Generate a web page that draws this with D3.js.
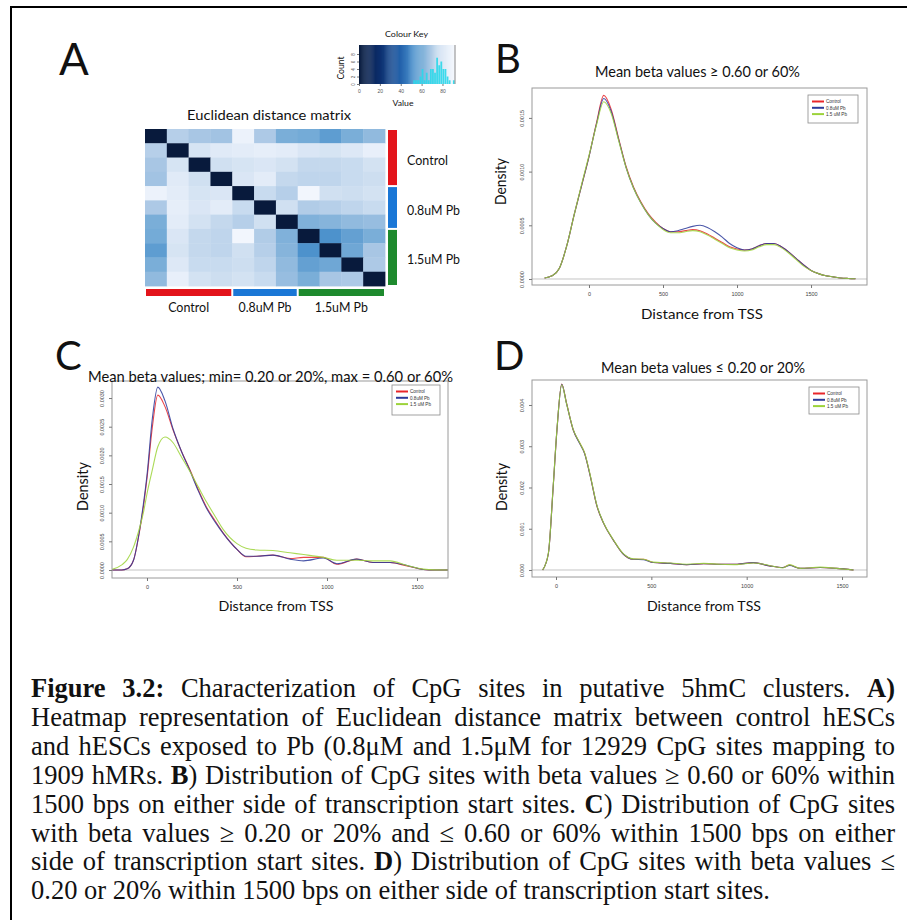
<!DOCTYPE html>
<html>
<head>
<meta charset="utf-8">
<script src="https://cdn.jsdelivr.net/npm/d3@7"></script>
<style>
  body { margin: 0; background: #fff; }
  svg { display: block; }
</style>
</head>
<body>
<div id="fig"></div>
<script>
// ---- panel A: sample groups and euclidean distance matrix ----
const sampleGroups = ["Control", "Control", "Control", "Control",
  "0.8uM Pb", "0.8uM Pb", "0.8uM Pb",
  "1.5uM Pb", "1.5uM Pb", "1.5uM Pb", "1.5uM Pb"];
const groupNames = ["Control", "0.8uM Pb", "1.5uM Pb"];
const distMatrix = [
  [0, 71, 68, 67, 87, 69, 60, 59, 55, 60, 64],
  [71, 0, 79, 82, 83, 84, 83, 80, 79, 81, 85],
  [68, 79, 0, 77, 79, 80, 78, 74, 74, 75, 78],
  [67, 82, 77, 0, 80, 83, 74, 73, 73, 75, 76],
  [87, 83, 79, 80, 0, 75, 71, 90, 77, 76, 78],
  [69, 84, 80, 83, 75, 0, 77, 70, 71, 73, 75],
  [60, 83, 78, 74, 71, 77, 0, 61, 62, 64, 65],
  [59, 80, 74, 73, 90, 70, 61, 0, 52, 56, 60],
  [55, 79, 74, 73, 77, 71, 62, 52, 0, 58, 68],
  [60, 81, 75, 75, 76, 73, 64, 56, 58, 0, 69],
  [64, 85, 78, 76, 78, 75, 65, 60, 68, 69, 0]
];
const keyTicks = [0, 20, 40, 60, 80];
const countTicks = [0, 2, 4, 6, 8];

// ---- density curves (distance from TSS, density) ----
const seriesNames = ["Control", "0.8uM Pb", "1.5 uM Pb"];

const bDist = [-300, -250, -200, -150, -100, -50, 0, 50, 100, 150, 200, 250, 300, 350, 400, 450, 500, 550, 600, 650, 700,
  750, 800, 850, 900, 950, 1000, 1050, 1100, 1150, 1200, 1250, 1300, 1350, 1400, 1450, 1500, 1550, 1600, 1650, 1700, 1750, 1800];
const bControl = [0.00001, 0.00003, 0.0001, 0.00031, 0.0006, 0.00087, 0.00114, 0.00145, 0.00171, 0.00158, 0.00131, 0.00105,
  0.00086, 0.00072, 0.00061, 0.00053, 0.00047, 0.00044, 0.00044, 0.00045, 0.00046, 0.00045, 0.00042, 0.00038, 0.00034,
  0.0003, 0.00028, 0.00027, 0.00028, 0.00031, 0.00033, 0.00033, 0.0003, 0.00025, 0.00019, 0.00013, 0.00008, 0.00005,
  0.00003, 0.00002, 0.00001, 0.000005, 0.000002];
const bLow = [0.00001, 0.00003, 0.0001, 0.00031, 0.0006, 0.00087, 0.00114, 0.00144, 0.00168, 0.00156, 0.0013, 0.00104,
  0.00085, 0.00071, 0.0006, 0.00052, 0.00047, 0.00044, 0.00045, 0.00047, 0.00049, 0.0005, 0.00048, 0.00044, 0.00039,
  0.00033, 0.00029, 0.00027, 0.00028, 0.00031, 0.00033, 0.00033, 0.0003, 0.00025, 0.00019, 0.00013, 0.00008, 0.00005,
  0.00003, 0.00002, 0.00001, 0.000005, 0.000002];
const bHigh = [0.00001, 0.00003, 0.0001, 0.00031, 0.0006, 0.00088, 0.00115, 0.00143, 0.00165, 0.00154, 0.00129, 0.00104,
  0.00085, 0.00071, 0.0006, 0.00052, 0.00046, 0.00043, 0.00043, 0.00044, 0.00045, 0.00044, 0.00041, 0.00037, 0.00033,
  0.00029, 0.00027, 0.00026, 0.00027, 0.0003, 0.00032, 0.00032, 0.00029, 0.00024, 0.00018, 0.00012, 0.00008, 0.00005,
  0.00003, 0.00002, 0.00001, 0.000005, 0.000002];

const cDist = [-200, -140, -110, -75, -40, -20, 0, 30, 60, 100, 145, 190, 240, 285, 330, 380, 425, 500, 550, 610, 700,
  795, 870, 980, 1055, 1165, 1255, 1350, 1445, 1535, 1600, 1700];
const cControl = [0, 0, 0.00002, 0.00017, 0.0007, 0.0011, 0.0016, 0.0025, 0.00305, 0.00285, 0.00244, 0.00208, 0.00174,
  0.0014, 0.0011, 0.00085, 0.00064, 0.00036, 0.00023, 0.00024, 0.00026, 0.0002, 0.00022, 0.00022, 0.0001, 0.00019,
  0.00013, 0.00013, 0.00007, 0.00001, 0, 0];
const cLow = [0, 0, 0.00002, 0.00017, 0.00072, 0.00115, 0.00165, 0.00265, 0.00319, 0.00295, 0.00246, 0.00208, 0.00172,
  0.00138, 0.00108, 0.00083, 0.00063, 0.00036, 0.00024, 0.00024, 0.00026, 0.00019, 0.00016, 0.00021, 0.00011, 0.00019,
  0.00013, 0.00013, 0.00008, 0.00001, 0, 0];
const cHigh = [0.000005, 0.00009, 0.00018, 0.0004, 0.00075, 0.001, 0.00133, 0.00175, 0.00215, 0.00232, 0.00222, 0.00198,
  0.00171, 0.00145, 0.00119, 0.00093, 0.0007, 0.00046, 0.00038, 0.00035, 0.00034, 0.0003, 0.00027, 0.00022, 0.00017,
  0.00017, 0.00016, 0.00016, 0.00008, 0.000015, 0.000002, 0];

const dDist = [-70, -40, -15, 5, 30, 55, 90, 125, 150, 180, 215, 250, 300, 350, 405, 460, 510, 600, 685, 775, 860, 950,
  1035, 1120, 1190, 1225, 1280, 1385, 1470, 1560];
const dControl = [0, 0.0004, 0.002, 0.0034, 0.00451, 0.00405, 0.0034, 0.00307, 0.00283, 0.00227, 0.00154, 0.00113,
  0.00073, 0.0004, 0.00026, 0.00026, 0.00018, 0.00016, 0.00013, 0.00015, 0.00014, 0.00014, 0.00018, 0.0001, 0.00006,
  0.00012, 0.00004, 0.00006, 0.00004, 0];
const dLow = [0, 0.0004, 0.002, 0.0034, 0.0045, 0.00404, 0.0034, 0.00306, 0.00282, 0.00227, 0.00155, 0.00113,
  0.00073, 0.0004, 0.00026, 0.00025, 0.00018, 0.00016, 0.00013, 0.00015, 0.00014, 0.00014, 0.00018, 0.0001, 0.00006,
  0.00011, 0.00004, 0.00006, 0.00004, 0];
const dHigh = [0, 0.00041, 0.00202, 0.00342, 0.00449, 0.00404, 0.00341, 0.00308, 0.00284, 0.00229, 0.00156, 0.00114,
  0.00074, 0.00041, 0.00027, 0.00026, 0.00019, 0.00017, 0.00014, 0.00016, 0.00014, 0.00013, 0.00017, 0.00011, 0.00005,
  0.00013, 0.00004, 0.00007, 0.00004, 0];

const xTicks = [0, 500, 1000, 1500];

// ---- caption, ** marks bold ----
const captionLines = [
  "**Figure 3.2:**  Characterization of CpG sites in putative 5hmC clusters. **A)**",
  "Heatmap representation of Euclidean distance matrix between control hESCs",
  "and hESCs exposed to Pb (0.8μM and 1.5μM for 12929 CpG sites mapping to",
  "1909 hMRs. **B**) Distribution of CpG sites with beta values ≥ 0.60 or 60% within",
  "1500 bps on either side of transcription start sites. **C**) Distribution of CpG sites",
  "with beta values ≥ 0.20 or 20% and ≤ 0.60 or 60% within 1500 bps on either",
  "side of transcription start sites. **D**)  Distribution of CpG sites with beta values ≤",
  "0.20 or 20% within 1500 bps on either side of transcription start sites."
];

const SANS = "Lato, 'Open Sans', sans-serif";
const SMALL = "'Liberation Sans', Arial, sans-serif";
const seriesColour = ["#e8262a", "#2c3a9a", "#9cd33a"];

const svg = d3.select("#fig").append("svg")
  .attr("width", 907)
  .attr("height", 920)
  .style("background-color", "white");

function label(parent, txt, o) {
  const t = parent.append("text")
    .text(txt)
    .attr("font-family", o.family || SANS)
    .attr("font-size", o.size)
    .attr("fill", o.fill || "#111")
    .attr("text-anchor", o.anchor || "middle");
  if (o.rotate) t.attr("transform", "translate(" + o.x + "," + o.y + ") rotate(" + o.rotate + ")");
  else t.attr("x", o.x).attr("y", o.y);
  if (o.width) t.attr("textLength", o.width).attr("lengthAdjust", "spacingAndGlyphs");
  return t;
}

// frame (only left and top edge lie inside the picture)
svg.append("path")
  .attr("d", "M11,920V7H907")
  .attr("fill", "none")
  .attr("stroke", "#000")
  .attr("stroke-width", 2);

// panel letters
label(svg, "A", {x: 59, y: 75, size: 44, anchor: "start"});
label(svg, "B", {x: 495, y: 73, size: 40, anchor: "start"});
label(svg, "C", {x: 55, y: 370, size: 40, anchor: "start"});
label(svg, "D", {x: 494, y: 370, size: 40, anchor: "start"});

// ================= panel A =================
const keyStops = [0, 20, 40, 52, 60, 68, 76, 84, 92];
const keyColours = ["#081a3c", "#0c2f6e", "#2463ad", "#4d92cc", "#7aaed8", "#a8c6e4", "#cddef0", "#e6eef9", "#f6f9fe"];
const heatColour = d3.scaleLinear().domain(keyStops).range(keyColours).clamp(true);
const groupColour = d3.scaleOrdinal().domain(groupNames).range(["#e3141b", "#1a77d6", "#1e8a2e"]);

const n = sampleGroups.length;
const hx = d3.scaleBand().domain(d3.range(n)).range([145, 385]);
const hy = d3.scaleBand().domain(d3.range(n)).range([129, 286]);

const heat = svg.append("g").attr("class", "heatmap");
heat.selectAll("g")
  .data(distMatrix)
  .join("g")
  .selectAll("rect")
  .data(function(row, i) { return row.map(function(v, j) { return {i: i, j: j, v: v}; }); })
  .join("rect")
  .attr("x", function(d) { return hx(d.j); })
  .attr("y", function(d) { return hy(d.i); })
  .attr("width", hx.bandwidth() + 0.4)
  .attr("height", hy.bandwidth() + 0.4)
  .attr("fill", function(d) { return heatColour(d.v); });

label(svg, "Euclidean distance matrix", {x: 269, y: 120, size: 13.5, width: 164});

groupNames.forEach(function(gn) {
  const idx = d3.range(n).filter(function(i) { return sampleGroups[i] === gn; });
  const a = d3.min(idx), b = d3.max(idx);
  const r0 = hy(a) + 1, r1 = hy(b) + hy.bandwidth() - 1;
  const c0 = hx(a) + 1, c1 = hx(b) + hx.bandwidth() - 1;
  svg.append("rect").attr("x", 388).attr("y", r0).attr("width", 9).attr("height", r1 - r0)
    .attr("fill", groupColour(gn));
  svg.append("rect").attr("x", c0).attr("y", 289).attr("width", c1 - c0).attr("height", 7)
    .attr("fill", groupColour(gn));
  const w = gn === "Control" ? 41 : 53;
  label(svg, gn, {x: 407, y: (r0 + r1) / 2 + 7, size: 14, anchor: "start", width: w});
  label(svg, gn, {x: (c0 + c1) / 2, y: 312, size: 14, width: w});
});

// colour key with histogram
const keyX = d3.scaleLinear().domain([0, 92]).range([359, 455]);
const keyY = d3.scaleLinear().domain([0, 10.4]).range([84, 45]);
const key = svg.append("g").attr("class", "key");
key.selectAll("rect.grad")
  .data(d3.range(0, 92, 1))
  .join("rect")
  .attr("class", "grad")
  .attr("x", function(d) { return keyX(d); })
  .attr("y", 45)
  .attr("width", keyX(1) - keyX(0) + 0.3)
  .attr("height", 39)
  .attr("fill", function(d) { return heatColour(d + 0.5); });

const upper = distMatrix.flatMap(function(row, i) { return row.filter(function(v, j) { return j > i; }); });
const bins = d3.bin().domain([0, 92]).thresholds(d3.range(0, 93, 2))(upper);
key.selectAll("rect.hist")
  .data(bins.filter(function(b) { return b.length > 0; }))
  .join("rect")
  .attr("class", "hist")
  .attr("x", function(b) { return keyX(b.x0); })
  .attr("width", function(b) { return keyX(b.x1) - keyX(b.x0) - 0.3; })
  .attr("y", function(b) { return keyY(b.length); })
  .attr("height", function(b) { return keyY(0) - keyY(b.length); })
  .attr("fill", "#2ad8ea")
  .attr("opacity", 0.9);
key.append("line").attr("x1", 455).attr("x2", 455).attr("y1", 45).attr("y2", 84)
  .attr("stroke", "#8a8a8a").attr("stroke-width", 1);

key.append("g")
  .attr("transform", "translate(0,84)")
  .call(d3.axisBottom(keyX).tickValues(keyTicks).tickSize(2).tickPadding(3))
  .call(function(a) { a.select(".domain").remove(); })
  .attr("font-size", 5)
  .attr("font-family", SMALL)
  .call(function(a) { a.selectAll("line").attr("stroke", "#777"); })
  .call(function(a) { a.selectAll("text").attr("fill", "#555"); });

const countAxis = key.append("g")
  .attr("transform", "translate(359,0)")
  .call(d3.axisLeft(keyY).tickValues(countTicks).tickSize(2))
  .call(function(a) { a.select(".domain").remove(); })
  .attr("font-size", 4.5)
  .attr("font-family", SMALL)
  .call(function(a) { a.selectAll("line").attr("stroke", "#777"); });
countAxis.selectAll("text")
  .attr("transform", "rotate(-90)")
  .attr("x", 0).attr("y", -4).attr("dy", 0)
  .attr("text-anchor", "middle")
  .attr("fill", "#555");

label(svg, "Colour Key", {x: 406.5, y: 37, size: 8, width: 43});
label(svg, "Count", {x: 344, y: 68, size: 8.5, rotate: -90, width: 23});
label(svg, "Value", {x: 403, y: 106, size: 8, width: 21});

// ================= density panels =================
const panels = [
  {id: "B", left: 532, right: 867, top: 88, bottom: 285,
    xDomain: [-385, 1878], yDomain: [-0.0000559, 0.0017784],
    yTicks: [0, 0.0005, 0.001, 0.0015], yFmt: ".4f",
    xs: bDist, series: [bControl, bLow, bHigh],
    legend: {x: 808, y: 95, w: 50, h: 28},
    title: "Mean beta values ≥ 0.60 or 60%", titleX: 697.5, titleY: 77, titleW: 205,
    xlabX: 702, xlabY: 319, xlabW: 122, ylabX: 506, ylabY: 181.5, ylabW: 47},
  {id: "C", left: 112, right: 448, top: 381, bottom: 578,
    xDomain: [-194.4, 1672.2], yDomain: [-0.0001395, 0.003297],
    yTicks: [0, 0.0005, 0.001, 0.0015, 0.002, 0.0025, 0.003], yFmt: ".4f",
    xs: cDist, series: [cControl, cLow, cHigh],
    legend: {x: 392, y: 385, w: 48, h: 30},
    title: "Mean beta values; min= 0.20 or 20%, max = 0.60 or 60%", titleX: 270.5, titleY: 381.5, titleW: 365,
    xlabX: 276, xlabY: 611, xlabW: 115, ylabX: 88, ylabY: 486.5, ylabW: 49},
  {id: "D", left: 532, right: 867, top: 380, bottom: 577,
    xDomain: [-125.9, 1631], yDomain: [-0.0001697, 0.004606],
    yTicks: [0, 0.001, 0.002, 0.003, 0.004], yFmt: ".3f",
    xs: dDist, series: [dControl, dLow, dHigh],
    legend: {x: 809, y: 387, w: 50, h: 27},
    title: "Mean beta values ≤ 0.20 or 20%", titleX: 703, titleY: 373, titleW: 204,
    xlabX: 704, xlabY: 611, xlabW: 114, ylabX: 507, ylabY: 487, ylabW: 48}
];

panels.forEach(function(p) {
  const x = d3.scaleLinear().domain(p.xDomain).range([p.left, p.right]);
  const y = d3.scaleLinear().domain(p.yDomain).range([p.bottom, p.top]);
  const g = svg.append("g").attr("class", "panel-" + p.id);

  g.append("clipPath").attr("id", "clip-" + p.id)
    .append("rect")
    .attr("x", p.left).attr("y", p.top)
    .attr("width", p.right - p.left).attr("height", p.bottom - p.top);

  // zero line drawn by plot.density
  g.append("line")
    .attr("x1", p.left).attr("x2", p.right)
    .attr("y1", y(0)).attr("y2", y(0))
    .attr("stroke", "#c4c4c4").attr("stroke-width", 1);

  const line = d3.line()
    .x(function(d) { return x(d[0]); })
    .y(function(d) { return y(d[1]); })
    .curve(d3.curveMonotoneX);

  g.append("g")
    .attr("clip-path", "url(#clip-" + p.id + ")")
    .selectAll("path")
    .data(p.series)
    .join("path")
    .attr("d", function(vals) { return line(p.xs.map(function(v, j) { return [v, vals[j]]; })); })
    .attr("fill", "none")
    .attr("stroke", function(d, i) { return seriesColour[i]; })
    .attr("stroke-width", 1.1)
    .attr("stroke-opacity", 0.85);

  g.append("rect")
    .attr("x", p.left).attr("y", p.top)
    .attr("width", p.right - p.left).attr("height", p.bottom - p.top)
    .attr("fill", "none").attr("stroke", "#9a9a9a").attr("stroke-width", 1);

  g.append("g")
    .attr("transform", "translate(0," + p.bottom + ")")
    .call(d3.axisBottom(x).tickValues(xTicks).tickSize(3).tickPadding(4).tickFormat(d3.format("d")))
    .call(function(a) { a.select(".domain").remove(); })
    .attr("font-size", 5.5)
    .attr("font-family", SMALL)
    .call(function(a) { a.selectAll("line").attr("stroke", "#777"); })
    .call(function(a) { a.selectAll("text").attr("fill", "#444"); });

  const ya = g.append("g")
    .attr("transform", "translate(" + p.left + ",0)")
    .call(d3.axisLeft(y).tickValues(p.yTicks).tickSize(3).tickFormat(d3.format(p.yFmt)))
    .call(function(a) { a.select(".domain").remove(); })
    .attr("font-size", 5.5)
    .attr("font-family", SMALL)
    .call(function(a) { a.selectAll("line").attr("stroke", "#777"); });
  ya.selectAll("text")
    .attr("transform", "rotate(-90)")
    .attr("x", 0).attr("y", -8).attr("dy", 0)
    .attr("text-anchor", "middle")
    .attr("fill", "#444");

  // legend
  const lg = g.append("g").attr("transform", "translate(" + p.legend.x + "," + p.legend.y + ")");
  lg.append("rect")
    .attr("width", p.legend.w).attr("height", p.legend.h)
    .attr("fill", "#fff").attr("stroke", "#8a8a8a").attr("stroke-width", 0.8);
  seriesNames.forEach(function(nm, i) {
    const ly = 6.5 + i * 6.3;
    lg.append("line").attr("x1", 4).attr("x2", 16).attr("y1", ly).attr("y2", ly)
      .attr("stroke", seriesColour[i]).attr("stroke-width", 2);
    label(lg, nm, {x: 18, y: ly + 1.7, size: 4.6, anchor: "start", family: SMALL, fill: "#333"});
  });

  label(svg, p.title, {x: p.titleX, y: p.titleY, size: 15, width: p.titleW});
  label(svg, "Distance from TSS", {x: p.xlabX, y: p.xlabY, size: 14, width: p.xlabW});
  label(svg, "Density", {x: p.ylabX, y: p.ylabY, size: 15, rotate: -90, width: p.ylabW});
});

// ================= caption (justified) =================
function parseWords(line) {
  const words = [];
  let bold = false, cur = [], buf = "";
  function flush() { if (buf) { cur.push({t: buf, b: bold}); buf = ""; } }
  for (let i = 0; i < line.length; i++) {
    if (line.startsWith("**", i)) { flush(); bold = !bold; i++; continue; }
    if (line[i] === " ") { flush(); if (cur.length) { words.push(cur); cur = []; } continue; }
    buf += line[i];
  }
  flush();
  if (cur.length) words.push(cur);
  return words;
}

const capLeft = 31, capRight = 895, capTop = 697, capStep = 28.9, capSize = 26.5;
const cap = svg.append("g")
  .attr("font-family", "'Liberation Serif', 'Times New Roman', serif")
  .attr("font-size", capSize)
  .attr("fill", "#111");

captionLines.forEach(function(line, li) {
  const words = parseWords(line);
  const yy = capTop + li * capStep;
  const nodes = words.map(function(w) {
    const t = cap.append("text").attr("y", yy);
    w.forEach(function(part) {
      t.append("tspan").text(part.t).attr("font-weight", part.b ? "bold" : null);
    });
    return t;
  });
  const widths = nodes.map(function(t) { return t.node().getComputedTextLength(); });
  const last = li === captionLines.length - 1;
  let gap = last ? capSize * 0.25 : (capRight - capLeft - d3.sum(widths)) / (words.length - 1);
  let sx = 1;
  if (gap < 3) {
    sx = (capRight - capLeft - 3 * (words.length - 1)) / d3.sum(widths);
    gap = 3;
  }
  let xx = capLeft;
  nodes.forEach(function(t, k) {
    t.attr("x", xx);
    if (sx < 1) t.attr("textLength", widths[k] * sx).attr("lengthAdjust", "spacingAndGlyphs");
    xx += widths[k] * sx + gap;
  });
});
</script>
</body>
</html>
